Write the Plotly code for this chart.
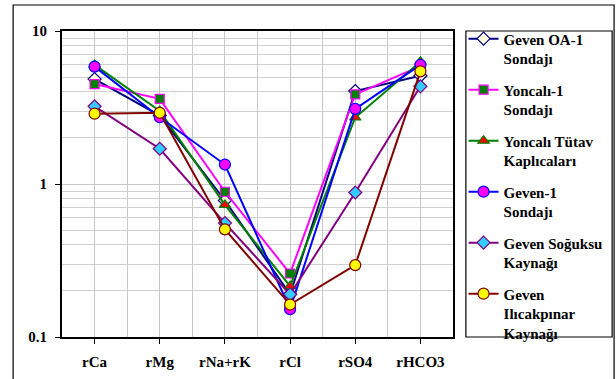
import plotly.graph_objects as go

categories = ["rCa", "rMg", "rNa+rK", "rCl", "rSO4", "rHCO3"]
series_names = [
    "Geven OA-1<br>Sondajı",
    "Yoncalı-1<br>Sondajı",
    "Yoncalı Tütav<br>Kaplıcaları",
    "Geven-1<br>Sondajı",
    "Geven Soğuksu<br>Kaynağı",
    "Geven<br>Ilıcakpınar<br>Kaynağı",
]
geven_oa1 = [4.85, 2.8, 0.78, 0.19, 4.05, 5.1]
yoncali1 = [4.5, 3.6, 0.89, 0.26, 3.85, 5.9]
yoncali_tutav = [6.0, 3.0, 0.73, 0.215, 2.72, 6.3]
geven1 = [5.85, 2.73, 1.34, 0.152, 3.1, 6.0]
geven_soguksu = [3.22, 1.7, 0.555, 0.19, 0.88, 4.35]
geven_ilicakpinar = [2.88, 2.92, 0.505, 0.163, 0.295, 5.45]
y_ticks = [0.1, 1, 10]
y_tick_labels = ["0.1", "1", "10"]

series_values = [geven_oa1, yoncali1, yoncali_tutav, geven1, geven_soguksu, geven_ilicakpinar]
line_colors = ["#000080", "#ff00ff", "#008000", "#0000ff", "#800080", "#800000"]
marker_fill = ["#ffffe0", "#008000", "#ff0000", "#ff00ff", "#33ccff", "#ffff00"]
marker_symbols = ["diamond", "square", "triangle-up", "circle", "diamond", "circle"]
marker_sizes = [10, 9, 10, 11, 10, 11]

x_idx = list(range(len(categories)))
fig = go.Figure()
for i, (name, vals) in enumerate(zip(series_names, series_values)):
    fig.add_trace(go.Scatter(
        x=x_idx, y=vals, name=name, mode="lines+markers",
        legendgroup=str(i),
        line=dict(color=line_colors[i], width=2),
        marker=dict(symbol=marker_symbols[i], size=marker_sizes[i], color=marker_fill[i],
                    line=dict(color=line_colors[i], width=1.2)),
    ))

bold = dict(family="Liberation Serif", size=15, color="black", weight="bold")
fig.update_layout(
    width=616, height=379,
    margin=dict(l=62, r=163, t=31, b=42, autoexpand=False),
    paper_bgcolor="white", plot_bgcolor="white",
    font=bold,
    showlegend=True,
    legend=dict(
        x=1.027, y=1.028, xanchor="left", yanchor="top",
        bgcolor="rgba(0,0,0,0)", borderwidth=0,
        font=dict(family="Liberation Serif", size=15, color="black", weight="bold"),
        tracegroupgap=9, itemwidth=30, valign="top", maxheight=1,
    ),
    xaxis=dict(
        range=[-0.5, 5.5], tickvals=x_idx, ticktext=categories,
        tickfont=bold,
        showgrid=True, gridcolor="#c8c8c8", gridwidth=1,
        minor=dict(dtick=0.5, tick0=0, showgrid=True, gridcolor="#c8c8c8", gridwidth=1),
        ticks="outside", ticklen=5, tickcolor="black",
        showline=True, linecolor="black", linewidth=2, mirror=True,
        ticklabelstandoff=5, zeroline=False,
    ),
    yaxis=dict(
        type="log", range=[-1, 1], tickvals=y_ticks, ticktext=y_tick_labels,
        tickfont=bold,
        showgrid=True, gridcolor="#c8c8c8", gridwidth=1,
        minor=dict(dtick="D1", showgrid=True, gridcolor="#d0d0d0", gridwidth=1),
        ticks="outside", ticklen=5, tickcolor="black",
        showline=True, linecolor="black", linewidth=2, mirror=True,
        ticklabelstandoff=5, zeroline=False,
    ),
    shapes=[
        dict(type="rect", xref="paper", yref="paper",
             x0=-0.125, x1=1.412, y0=-0.3, y1=1.085,
             line=dict(color="black", width=1.2), layer="below"),
        dict(type="rect", xref="paper", yref="paper",
             x0=1.033, x1=1.407, y0=0.0, y1=1.0,
             line=dict(color="black", width=1.2), layer="below"),
    ],
)
fig.write_html("out.html", config={"displayModeBar": False},
               post_script="document.body.style.margin='0';document.body.style.overflow='hidden';")
